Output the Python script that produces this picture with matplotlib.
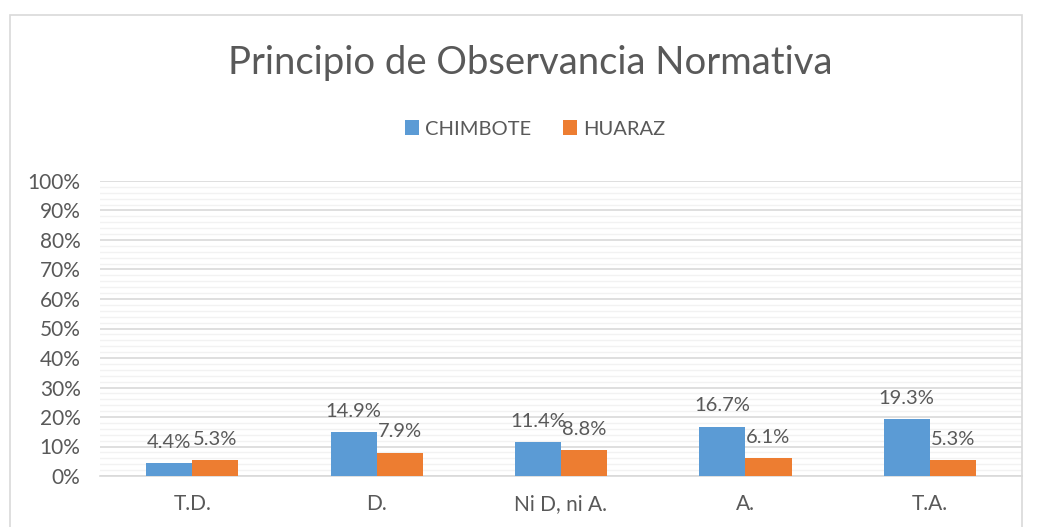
import matplotlib
matplotlib.use("Agg")
import matplotlib.pyplot as plt
from matplotlib.patches import Rectangle
from matplotlib.ticker import MultipleLocator, PercentFormatter
import numpy as np

## Data

categories = ["T.D.", "D.", "Ni D, ni A.", "A.", "T.A."]
chimbote = [4.4, 14.9, 11.4, 16.7, 19.3]
huaraz = [5.3, 7.9, 8.8, 6.1, 5.3]
series_names = ["CHIMBOTE", "HUARAZ"]
colors = ["#5B9BD5", "#ED7D31"]
text_color = "#595959"

plt.rcParams["font.family"] = ["Lato", "DejaVu Sans"]

## Figure

fig = plt.figure(figsize=(10.38, 5.27), dpi=100)
ax = fig.add_axes([100 / 1038, 1 - 476 / 527, 922 / 1038, 295 / 527])

x = np.arange(len(categories))
w = 0.25
for i, (vals, name) in enumerate(zip([chimbote, huaraz], series_names)):
    pos = x + (i - 0.5) * w
    ax.bar(pos, vals, width=w, color=colors[i], label=name, zorder=3)
    for px, v in zip(pos, vals):
        ax.annotate(f"{v:.1f}%", (px, v), xytext=(0, 9), textcoords="offset points",
                    ha="center", va="bottom", fontsize=14.5, color=text_color)

ax.set_xlim(-0.5, len(categories) - 0.5)
ax.set_ylim(0, 100)
ax.yaxis.set_major_locator(MultipleLocator(10))
ax.yaxis.set_minor_locator(MultipleLocator(2))
ax.yaxis.set_major_formatter(PercentFormatter(decimals=0))
ax.grid(axis="y", which="major", color="#D9D9D9", linewidth=1.2, zorder=0)
ax.grid(axis="y", which="minor", color="#F2F2F2", linewidth=1.0, zorder=0)

ax.set_xticks(x)
ax.set_xticklabels(categories)
ax.tick_params(axis="both", which="both", length=0, labelsize=15, colors=text_color)
ax.tick_params(axis="x", pad=13)
ax.tick_params(axis="y", pad=14)
for s in ["top", "right", "left"]:
    ax.spines[s].set_visible(False)
ax.spines["bottom"].set_color("#D9D9D9")
ax.spines["bottom"].set_linewidth(1.2)

fig.text(530 / 1038, 1 - 63 / 527, "Principio de Observancia Normativa",
         ha="center", va="center", fontsize=27.5, color=text_color)

fig.legend(loc="center", bbox_to_anchor=(535 / 1038, 1 - 129 / 527), ncol=2, frameon=False,
           fontsize=14.5, labelcolor=text_color, handlelength=0.7, handleheight=0.7,
           handletextpad=0.3, columnspacing=1.6)

# chart border
fig.patches.append(Rectangle((10 / 1038, -0.05), 1012 / 1038, 1.05 - 15 / 527,
                             transform=fig.transFigure, fill=False,
                             edgecolor="#D9D9D9", linewidth=1.2))

fig.savefig("out.png", dpi=100)
